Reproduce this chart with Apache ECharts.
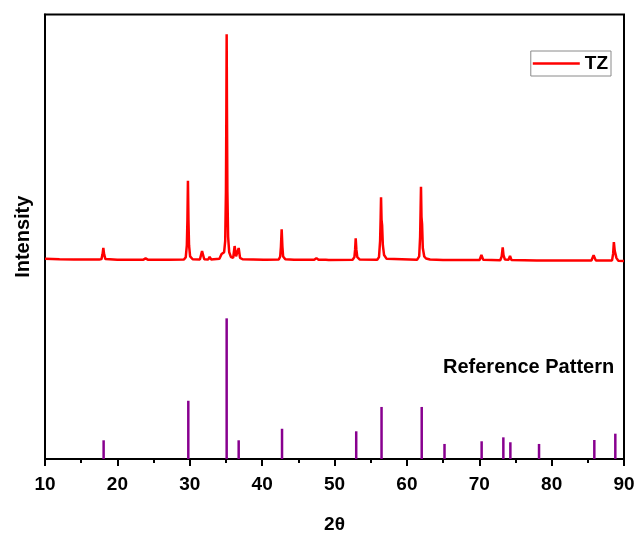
<!DOCTYPE html>
<html>
<head>
<meta charset="utf-8">
<script src="https://cdn.jsdelivr.net/npm/echarts@6/dist/echarts.min.js"></script>
<style>html,body{margin:0;padding:0;background:#fff}#c{width:636px;height:533px}</style>
</head>
<body>
<div id="c"></div>
<script>
// Measured XRD curve of TZ (2θ, intensity in plot units; baseline offset ~141)
var tzCurve = [
  [10,142.3],[12,142.0],[14,141.9],[16,141.8],[17.5,141.8],
  [17.8,142.1],[17.95,145.5],[18.06,150.0],[18.17,145.5],[18.35,142.1],
  [20,141.7],[23.6,141.7],[23.9,142.6],[24.2,141.7],[27,141.6],[29.2,141.8],
  [29.45,143.5],[29.6,152],[29.68,170],[29.75,197.8],[29.82,170],[29.9,152],[30.05,144],[30.4,142.0],
  [31.4,141.8],[31.7,147.8],[32.0,142.0],[32.55,141.8],[32.75,143.8],[32.95,141.9],
  [34.1,142.3],[34.4,145.7],[34.6,145],[34.75,147],[34.9,155],[35.0,190],[35.06,250],[35.1,302],
  [35.14,250],[35.2,190],[35.3,158],[35.45,147],[35.7,143.5],[36.0,143],[36.2,151.4],[36.4,144],
  [36.6,144.5],[36.76,150.0],[36.95,143],[37.3,142],[40.2,141.6],[40.4,142.2],[40.6,141.6],[42.3,141.8],
  [42.5,144],[42.6,151],[42.7,163.3],[42.8,151],[42.9,144],[43.2,142],
  [44.4,141.6],[44.6,142.2],[44.8,141.6],[47.2,141.6],[47.5,142.8],[47.8,141.6],
  [48.8,141.6],[49.0,142.3],[49.2,141.5],[52.5,141.6],
  [52.75,143.5],[52.85,149],[52.93,156.9],[53.02,149],[53.15,143.5],[53.5,141.8],[55.9,141.6],
  [56.15,143.5],[56.3,155],[56.38,172],[56.43,186],[56.5,170],[56.58,166],[56.68,152],[56.85,145],[57.2,142.3],
  [61.4,141.6],[61.7,144],[61.83,158],[61.9,178],[61.95,193.5],[62.02,172],[62.1,167],[62.2,150],[62.4,144],
  [62.65,142.5],[62.9,143.3],[63.2,141.8],[65.0,141.5],[65.2,142.0],[65.4,141.4],
  [66.2,141.4],[66.4,141.9],[66.6,141.4],[67.7,141.5],[67.96,142.6],[68.2,141.4],
  [68.9,141.4],[69.1,141.9],[69.3,141.4],[70.05,141.5],[70.3,145.0],[70.55,141.6],
  [72.9,141.3],[73.1,144],[73.24,150.5],[73.35,145],[73.55,141.8],[74.05,141.6],[74.25,144.3],[74.45,141.5],
  [77.95,141.2],[78.2,142.1],[78.45,141.1],[85.5,141.1],[85.8,144.8],[86.1,141.2],
  [88.35,141.2],[88.5,146],[88.6,154.2],[88.72,148],[88.8,148.5],[88.95,143],[89.2,141],[90,140.8]
];
// Reference pattern sticks (2θ positions and relative intensities)
var refPositions = [18.1, 29.8, 35.1, 36.76, 42.75, 53.0, 56.5, 62.05, 65.2, 70.33, 73.33, 74.3, 78.26, 85.9, 88.8];
var refIntensity = [13.3, 41.4, 100, 13.3, 21.5, 19.7, 37.0, 37.0, 10.7, 12.6, 15.4, 11.9, 10.7, 13.5, 18.0];
var xTicks = [10, 20, 30, 40, 50, 60, 70, 80, 90];

var refData = refPositions.map(function (p, i) { return [p, refIntensity[i]]; });
var FONT = '"Liberation Sans", Arial, sans-serif';

var chart = echarts.init(document.getElementById('c'), null, { renderer: 'canvas' });
chart.setOption({
  animation: false,
  backgroundColor: '#fff',
  grid: {
    left: 45, right: 12, top: 14.5, bottom: 74, show: true, borderColor: '#000', borderWidth: 2,
    containLabel: false, outerBoundsMode: 'none'
  },
  legend: {
    data: [{ name: 'TZ', icon: 'rect' }], right: 25, top: 51,
    borderColor: '#8a8a8a', borderWidth: 1, padding: [3, 3, 3, 2],
    itemWidth: 47, itemHeight: 2.5, itemGap: 5,
    itemStyle: { color: '#ff0000' },
    textStyle: { fontFamily: FONT, fontWeight: 'bold', fontSize: 19, color: '#000' }
  },
  xAxis: {
    type: 'value', min: xTicks[0], max: xTicks[xTicks.length - 1], interval: 10,
    name: '2θ', nameLocation: 'middle', nameGap: 56,
    nameTextStyle: { fontFamily: FONT, fontWeight: 'bold', fontSize: 19, color: '#000' },
    axisLine: { show: true, onZero: false, lineStyle: { color: '#000', width: 2 } },
    axisTick: { show: true, inside: false, length: 7, lineStyle: { color: '#000', width: 2 } },
    minorTick: { show: true, splitNumber: 2, length: 4, lineStyle: { color: '#000', width: 2 } },
    axisLabel: { margin: 16, fontFamily: FONT, fontWeight: 'bold', fontSize: 19, color: '#000' },
    splitLine: { show: false }
  },
  yAxis: {
    type: 'value', min: 0, max: 316,
    name: 'Intensity', nameLocation: 'middle', nameGap: 12,
    nameTextStyle: { fontFamily: FONT, fontWeight: 'bold', fontSize: 20, color: '#000' },
    axisLine: { show: true, lineStyle: { color: '#000', width: 2 } },
    axisTick: { show: false }, axisLabel: { show: false }, splitLine: { show: false }
  },
  graphic: [{
    type: 'text', left: 443, top: 357,
    style: { text: 'Reference Pattern', fontFamily: FONT, fontWeight: 'bold', fontSize: 20, fill: '#000' }
  }],
  series: [
    {
      name: 'TZ', type: 'line', data: tzCurve, symbol: 'none', smooth: false,
      lineStyle: { color: '#ff0000', width: 2.5 }, itemStyle: { color: '#ff0000' }, z: 3
    },
    {
      name: 'Reference Pattern', type: 'bar', data: refData, barWidth: 2.5,
      itemStyle: { color: '#88008f' }, z: 2
    }
  ]
});
</script>
</body>
</html>
